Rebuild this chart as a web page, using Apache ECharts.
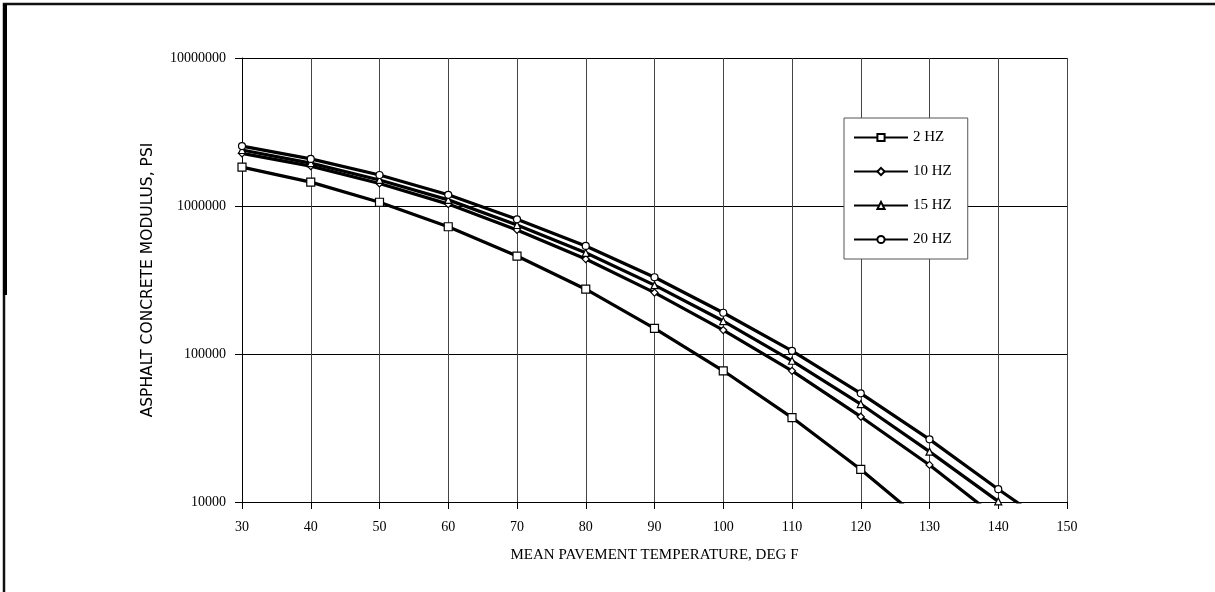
<!DOCTYPE html>
<html>
<head>
<meta charset="utf-8">
<title>Asphalt concrete modulus vs temperature</title>
<script src="https://cdn.jsdelivr.net/npm/echarts@6/dist/echarts.min.js"></script>
<style>
  html, body { margin: 0; padding: 0; background: #fff; }
  #chart { width: 1215px; height: 592px; }
</style>
</head>
<body>
<div id="chart"></div>
<script>
// temperatures (deg F) and modulus (psi)
const temps = [30, 40, 50, 60, 70, 80, 90, 100, 110, 120, 130, 140, 150]
const hz2 = [1830000, 1450000, 1060000, 724000, 459000, 274000, 149000, 77000, 37200, 16600, 6800]
const hz10 = [2270000, 1860000, 1420000, 1030000, 689000, 438000, 260000, 145000, 77000, 37700, 17800, 7700]
const hz15 = [2390000, 1950000, 1500000, 1100000, 744000, 483000, 292000, 167000, 90000, 45900, 21900, 10100]
const hz20 = [2540000, 2080000, 1620000, 1190000, 813000, 537000, 330000, 190000, 105000, 54200, 26500, 12200, 5800]

const seriesNames = ['2 HZ', '10 HZ', '15 HZ', '20 HZ']
const seriesValues = [hz2, hz10, hz15, hz20]
const seriesSymbols = ['rect', 'diamond', 'triangle', 'circle']
const symbolSizes = [8, 7, 7, 7]

const serif = '"Liberation Serif", "DejaVu Serif", serif'

const chart = echarts.init(document.getElementById('chart'))

const series = seriesNames.map((name, i) => ({
  name,
  type: 'line',
  data: seriesValues[i].map((v, j) => [temps[j], v]),
  symbol: seriesSymbols[i],
  symbolSize: symbolSizes[i],
  showAllSymbol: true,
  clip: true,
  z: 3 + i,
  lineStyle: { color: '#000', width: 3.2 },
  itemStyle: { color: '#fff', borderColor: '#000', borderWidth: 1.2 },
  emphasis: { disabled: true }
}))

const option = {
  animation: false,
  backgroundColor: '#fff',
  grid: { left: 242, right: 148, top: 58, bottom: 90 },
  legend: {
    data: seriesNames,
    orient: 'vertical',
    left: 844,
    top: 118,
    padding: [12, 16, 12, 9],
    itemGap: 19,
    itemWidth: 54,
    itemHeight: 9,
    backgroundColor: '#fff',
    borderColor: '#555',
    borderWidth: 1,
    textStyle: { fontFamily: serif, fontSize: 15, color: '#000' }
  },
  xAxis: {
    type: 'value',
    min: 30,
    max: 150,
    interval: 10,
    name: 'MEAN PAVEMENT TEMPERATURE, DEG F',
    nameLocation: 'middle',
    nameGap: 46,
    nameTextStyle: { fontFamily: serif, fontSize: 15, color: '#000' },
    axisLine: { show: true, lineStyle: { color: '#000', width: 1 } },
    axisTick: { show: true, length: 7, lineStyle: { color: '#000' } },
    axisLabel: { margin: 18, fontFamily: serif, fontSize: 14, color: '#000' },
    splitLine: { show: true, lineStyle: { color: '#444', width: 1 } }
  },
  yAxis: {
    type: 'log',
    logBase: 10,
    min: 10000,
    max: 10000000,
    name: 'ASPHALT CONCRETE MODULUS, PSI',
    nameLocation: 'middle',
    nameGap: 86,
    nameTextStyle: { fontFamily: '"DejaVu Sans", sans-serif', fontSize: 15.5, color: '#000' },
    axisLine: { show: true, lineStyle: { color: '#000', width: 1 } },
    axisTick: { show: true, length: 7, lineStyle: { color: '#000' } },
    axisLabel: {
      margin: 16,
      fontFamily: serif,
      fontSize: 14,
      color: '#000',
      formatter: (v) => String(Math.round(v))
    },
    splitLine: { show: true, lineStyle: { color: '#000', width: 1 } }
  },
  graphic: [
    // scanned page frame, right and bottom edges fall off the picture
    {
      type: 'rect',
      shape: { x: 4, y: 4, width: 1240, height: 640 },
      style: { fill: null, stroke: '#111', lineWidth: 2.5 },
      silent: true
    },
    {
      type: 'line',
      shape: { x1: 5, y1: 4, x2: 5, y2: 295 },
      style: { stroke: '#000', lineWidth: 4 },
      silent: true
    }
  ],
  series
}

chart.setOption(option)
</script>
</body>
</html>
